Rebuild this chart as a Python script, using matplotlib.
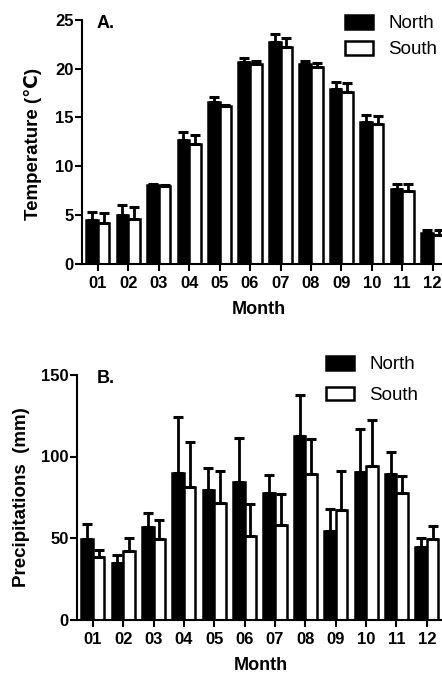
import numpy as np
import matplotlib.pyplot as plt
from matplotlib.patches import Patch

plt.rcParams['font.family'] = ['Liberation Sans', 'DejaVu Sans']

meses = ['01', '02', '03', '04', '05', '06', '07', '08', '09', '10', '11', '12']

#### temperatura (media, error)
temp_norte = [4.5, 5.0, 8.1, 12.7, 16.6, 20.7, 22.7, 20.45, 17.9, 14.5, 7.6, 3.15]
temp_norte_err = [0.8, 1.0, 0.1, 0.75, 0.5, 0.35, 0.85, 0.35, 0.75, 0.7, 0.6, 0.25]
temp_sur = [4.2, 4.6, 7.95, 12.3, 16.2, 20.45, 22.25, 20.2, 17.6, 14.3, 7.45, 2.9]
temp_sur_err = [1.0, 1.15, 0.1, 0.9, 0.1, 0.35, 0.95, 0.4, 0.9, 0.8, 0.75, 0.5]

#### precipitaciones (media, error)
prec_norte = [49.6, 34.4, 56.8, 90.0, 79.7, 84.6, 77.9, 112.7, 54.3, 90.6, 89.1, 44.5]
prec_norte_err = [9.2, 5.4, 8.6, 34.0, 13.3, 26.9, 11.0, 25.0, 13.3, 26.2, 13.6, 5.5]
prec_sur = [38.3, 42.2, 49.6, 81.4, 71.3, 51.0, 58.2, 89.1, 67.4, 94.3, 77.9, 49.6]
prec_sur_err = [4.5, 8.0, 11.3, 27.4, 19.7, 20.1, 18.6, 21.4, 24.0, 28.0, 10.4, 7.8]

W, H = 442, 675


def fx(px):
    return px / W


def fy(py):
    return 1 - py / H


def panel(ax, norte, norte_err, sur, sur_err, ymax, ystep, ylabel):
    x = np.arange(1, 13)
    w = 0.38
    ceros = np.zeros(12)
    err_kw = dict(ecolor='black', elinewidth=2, capsize=3.3, capthick=2.2)
    ax.bar(x - w/2, norte, w, color='black', edgecolor='black', linewidth=1.8,
           yerr=[ceros, norte_err], error_kw=err_kw)
    ax.bar(x + w/2, sur, w, color='white', edgecolor='black', linewidth=1.8,
           yerr=[ceros, sur_err], error_kw=err_kw)
    ax.set_xlim(0.48, 12.6)
    ax.set_ylim(0, ymax)
    ax.set_xticks(x)
    ax.set_xticklabels(meses)
    ax.set_yticks(np.arange(0, ymax + 1, ystep))
    for lado in ['top', 'right']:
        ax.spines[lado].set_visible(False)
    for lado in ['left', 'bottom']:
        ax.spines[lado].set_linewidth(1.5)
    ax.tick_params(axis='both', width=1.5, length=5, labelsize=12)
    ax.tick_params(axis='y', pad=1)
    ax.tick_params(axis='x', pad=4)
    for t in ax.get_xticklabels() + ax.get_yticklabels():
        t.set_fontweight('bold')
    ax.set_xlabel('Month', fontsize=13, fontweight='bold', va='center')
    ax.set_ylabel(ylabel, fontsize=13.5, fontweight='bold', va='center')


fig = plt.figure(figsize=(W/100, H/100), dpi=100)

axA = fig.add_axes([fx(82), fy(263.5), fx(451 - 82), (263.5 - 20) / H])
panel(axA, temp_norte, temp_norte_err, temp_sur, temp_sur_err, 25, 5,
      'Temperature (℃)')
fig.text(fx(97), fy(23), 'A.', fontsize=13, fontweight='bold', va='center')

axB = fig.add_axes([fx(77), fy(619.5), fx(445 - 77), (619.5 - 375) / H])
panel(axB, prec_norte, prec_norte_err, prec_sur, prec_sur_err, 150, 50,
      'Precipitations  (mm)')
fig.text(fx(97), fy(378), 'B.', fontsize=13, fontweight='bold', va='center')

axA.yaxis.set_label_coords(fx(33), fy(144), transform=fig.transFigure)
axB.yaxis.set_label_coords(fx(22), fy(497), transform=fig.transFigure)
axA.xaxis.set_label_coords(fx(259), fy(310), transform=fig.transFigure)
axB.xaxis.set_label_coords(fx(261), fy(665), transform=fig.transFigure)

manijas = [Patch(facecolor='black', edgecolor='black', linewidth=1.8),
           Patch(facecolor='white', edgecolor='black', linewidth=1.8)]
for ax, pos, esp in [(axA, (fx(345), fy(15)), 0.45),
                     (axB, (fx(326), fy(356)), 0.7)]:
    ax.legend(manijas, ['North', 'South'], loc='upper left', bbox_to_anchor=pos,
              bbox_transform=fig.transFigure, frameon=False, fontsize=13.5,
              handlelength=1.5, handleheight=0.75, handletextpad=0.8,
              labelspacing=esp, borderpad=0, borderaxespad=0)

fig.savefig('out.png', dpi=100)
